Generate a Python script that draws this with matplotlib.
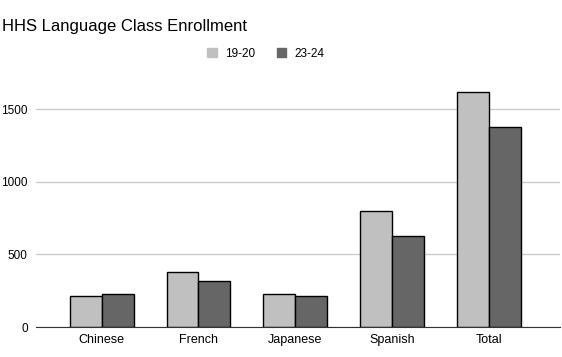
import numpy as np
import matplotlib.pyplot as plt
from matplotlib.patches import Patch

plt.rcParams['font.family'] = ['Liberation Sans', 'DejaVu Sans']

# Data
languages = ["Chinese", "French", "Japanese", "Spanish", "Total"]
enroll_1920 = [216, 381, 227, 795, 1614]
enroll_2324 = [226, 320, 213, 623, 1374]
series_labels = ["19-20", "23-24"]
yticks = [0, 500, 1000, 1500]

light = "#c0c0c0"
dark = "#666666"

fig = plt.figure(figsize=(5.62, 3.57), dpi=100)
ax = fig.add_axes([0.064, 0.084, 0.933, 0.692])

x = np.arange(len(languages))
w = 0.33
ax.bar(x - w/2, enroll_1920, w, color=light, edgecolor="black", linewidth=1, zorder=3)
ax.bar(x + w/2, enroll_2324, w, color=dark, edgecolor="black", linewidth=1, zorder=3)

ax.set_xlim(-0.68, 4.74)
ax.set_ylim(0, 1700)
ax.set_xticks(x)
ax.set_xticklabels(languages, fontsize=9)
ax.set_yticks(yticks)
ax.set_yticklabels([str(t) for t in yticks], fontsize=8.5)
ax.tick_params(length=0, pad=6)
ax.tick_params(axis="x", pad=5)
ax.grid(axis="y", color="#cccccc", linewidth=1, zorder=0)
for s in ["top", "right", "left"]:
    ax.spines[s].set_visible(False)
ax.spines["bottom"].set_color("#333333")
ax.spines["bottom"].set_zorder(4)

fig.text(0.004, 0.925, "HHS Language Class Enrollment", fontsize=12, va="center", ha="left")

handles = [Patch(color=light), Patch(color=dark)]
fig.legend(handles, series_labels, loc="center", bbox_to_anchor=(0.473, 0.85), ncol=2,
           frameon=False, fontsize=8.5, handlelength=0.8, handleheight=0.8,
           handletextpad=0.7, columnspacing=1.8)

fig.savefig("out.png", dpi=100)
